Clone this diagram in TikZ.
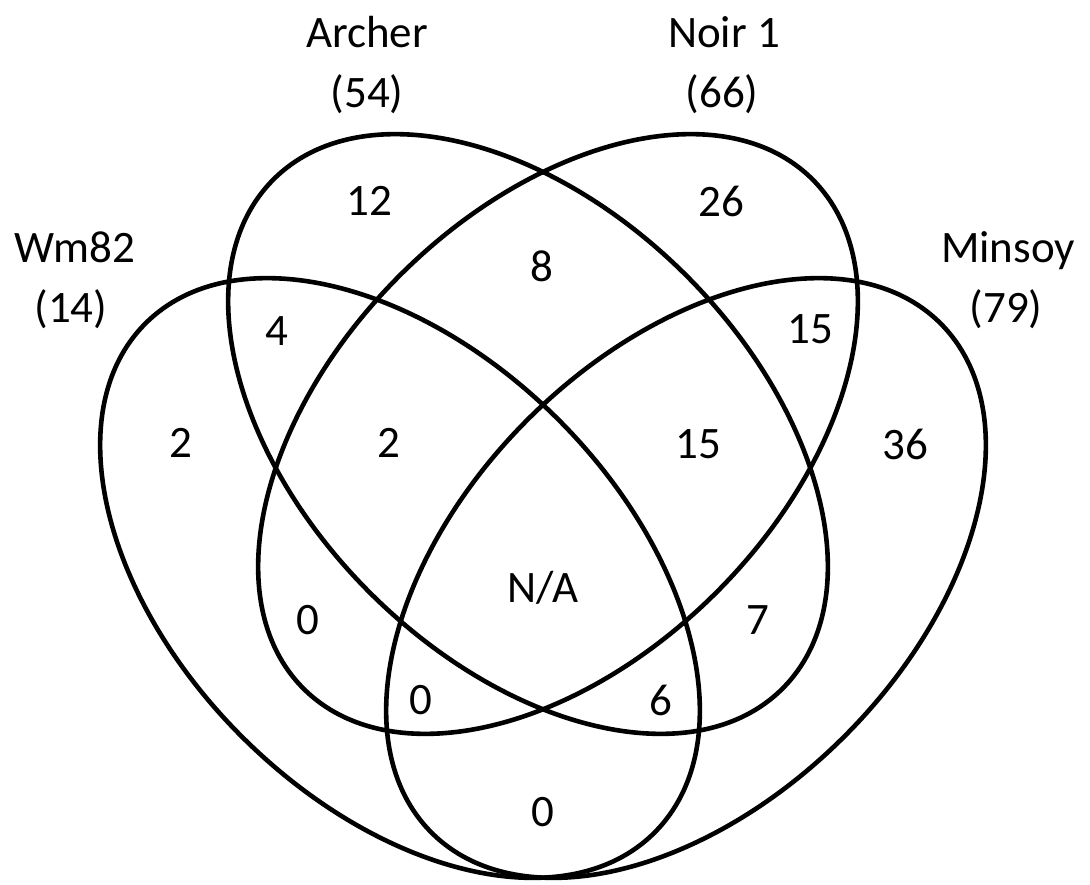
\documentclass[tikz,border=0pt]{standalone}
\usepackage{fontspec}
\setmainfont{Carlito}
\begin{document}
\begin{tikzpicture}[x=1pt,y=-1pt,line join=round,line cap=round,
	every node/.style={font=\fontsize{45}{54}\selectfont,inner sep=0pt}]
	\useasboundingbox (0,0) rectangle (1090,885);
	\path
	(528,434) coordinate (Archer)
	(558,434) coordinate (Noir)
	(400,578) coordinate (Wm)
	(686,578) coordinate (Minsoy)
	;
	\foreach \c/\r in {Archer/-45,Noir/45,Wm/-45,Minsoy/45}
	\draw[line width=4.6pt,rotate around={\r:(\c)}] (\c) ellipse [x radius=360, y radius=224];
	% set names and sizes
	\node[anchor=base] (nArcher) at (367,48) {Archer};
	\node[anchor=base] (sArcher) at (367,108) {(54)};
	\node[anchor=base] (nNoir) at (724,48) {Noir 1};
	\node[anchor=base] (sNoir) at (722,108) {(66)};
	\node[anchor=base] (nWm) at (75,263) {Wm82};
	\node[anchor=base] (sWm) at (71,323) {(14)};
	\node[anchor=base] (nMinsoy) at (1008,263) {Minsoy};
	\node[anchor=base] (sMinsoy) at (1006,323) {(79)};
	% region counts
	\foreach \n/\x/\y/\t in {a/369/201/12,n/721/201/26,an/542/266/8,aw/277/331/4,nm/810/329/15,
		w/181/443/2,awn/389/443/2,anm/698/444/15,m/905/444/36,wn/308/620/0,am/758/620/7,
		wnm/421/700/0,awm/661/700/6,wm/543/812/0}
	\node (\n) at (\x,\y) {\t};
	\node (all) at (543,588) {N/A};
\end{tikzpicture}
\end{document}
